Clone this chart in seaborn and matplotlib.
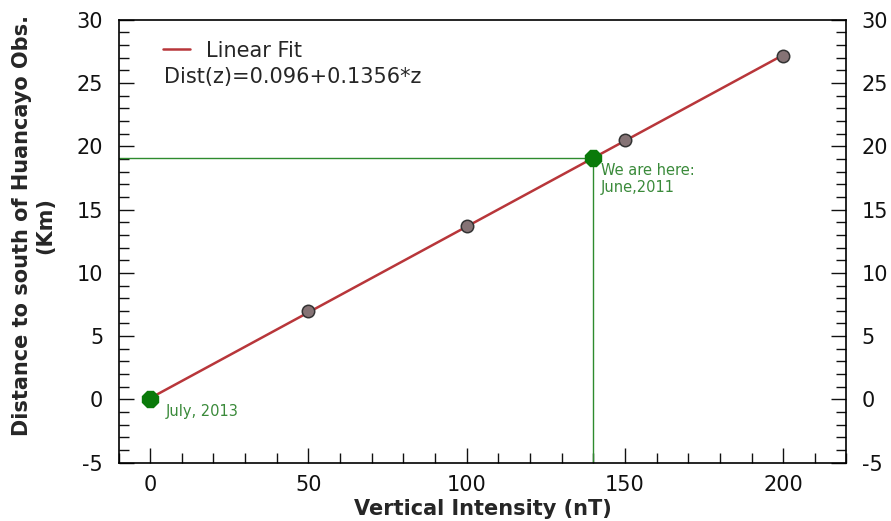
import numpy as np
import pandas as pd
import matplotlib
matplotlib.use("Agg")
import matplotlib.pyplot as plt
import seaborn as sns
from matplotlib.ticker import MultipleLocator

# measured points
intensity = [50, 100, 150, 200]
distance = [7.0, 13.7, 20.5, 27.1]

# fit coefficients
fit_a = 0.096
fit_b = 0.1356
fit_x = [0, 200]

# highlighted points
here_x, here_y = 140, 19.1
start_x, start_y = 0, 0

sns.set_style("white")
plt.rcParams["font.family"] = ["DejaVu Sans"]
plt.rcParams["axes.unicode_minus"] = False

fig, ax = plt.subplots(figsize=(8.91, 5.21), dpi=100)

fit_df = pd.DataFrame({"x": fit_x, "y": [fit_a + fit_b * v for v in fit_x]})
sns.lineplot(data=fit_df, x="x", y="y", ax=ax, color="#b8363a", linewidth=1.8,
             label="Linear Fit", zorder=2)

pts = pd.DataFrame({"x": intensity, "y": distance})
sns.scatterplot(data=pts, x="x", y="y", ax=ax, color="#857375", edgecolor="#333333",
                s=80, linewidth=1.1, zorder=3)

ax.plot([-10, here_x], [here_y, here_y], color="#2e8b2e", linewidth=1, zorder=1)
ax.plot([here_x, here_x], [-5, here_y], color="#2e8b2e", linewidth=1, zorder=1)
ax.plot([here_x], [here_y], marker="8", color="#0a7a0a", markersize=13, zorder=4)
ax.plot([start_x], [start_y], marker="8", color="#0a7a0a", markersize=13, zorder=4)

ax.text(here_x + 2.5, here_y - 0.4, "We are here:\nJune,2011", color="#3a8a3a",
        fontsize=10.5, va="top", ha="left")
ax.text(start_x + 5, start_y - 0.4, "July, 2013", color="#3a8a3a",
        fontsize=10.5, va="top", ha="left")

ax.set_xlim(-10, 220)
ax.set_ylim(-5, 30)
ax.xaxis.set_major_locator(MultipleLocator(50))
ax.xaxis.set_minor_locator(MultipleLocator(10))
ax.yaxis.set_major_locator(MultipleLocator(5))
ax.yaxis.set_minor_locator(MultipleLocator(1))
ax.tick_params(which="both", direction="in", bottom=True, left=True, right=True,
               top=False, labelright=True, labelsize=15, colors="#111111")
ax.tick_params(which="major", length=11, width=1)
ax.tick_params(which="minor", length=7, width=1)
ax.tick_params(axis="y", which="major", pad=11)
ax.tick_params(axis="x", which="major", pad=9)
for s in ax.spines.values():
    s.set_color("black")
    s.set_linewidth(1.2)

ax.set_xlabel("Vertical Intensity (nT)", fontsize=15, fontweight="bold", labelpad=3)
ax.set_ylabel("Distance to south of Huancayo Obs.\n(Km)", fontsize=15,
              fontweight="bold")
ax.yaxis.set_label_coords(-0.087, 0.535)

leg = ax.legend(loc="upper left", frameon=False, fontsize=15, handlelength=1.3,
                bbox_to_anchor=(0.035, 0.995))
ax.text(0.062, 0.871, "Dist(z)=0.096+0.1356*z", transform=ax.transAxes,
        fontsize=15, va="center", ha="left")

fig.subplots_adjust(left=0.133, right=0.95, top=0.962, bottom=0.112)
fig.savefig("out.png", dpi=100)
